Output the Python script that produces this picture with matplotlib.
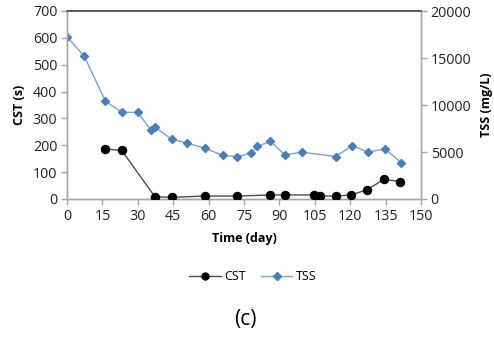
import matplotlib
matplotlib.use("Agg")
import matplotlib.pyplot as plt
from matplotlib.lines import Line2D

plt.rcParams['font.family'] = ['Open Sans', 'DejaVu Sans']

# CST measurements (s)
cst_days = [16.3, 23.2, 37.2, 44.3, 58.3, 72.2, 86.2, 92.3, 104.6, 107.1, 113.8, 120.3, 127.0, 134.3, 141.1]
cst_vals = [186, 181, 9, 6, 11, 11, 15, 15, 15, 11, 11, 15, 34, 73, 65]

# TSS measurements (mg/L)
tss_days = [0, 7.3, 16.3, 23.2, 30.0, 35.4, 37.2, 44.3, 51.0, 58.3, 66.2, 72.2, 78.1, 80.5,
            86.2, 92.3, 99.4, 113.8, 120.9, 127.6, 134.7, 141.5]
tss_vals = [17260, 15200, 10400, 9220, 9220, 7370, 7650, 6370, 5940, 5410, 4630, 4520, 4880, 5590,
            6120, 4700, 4980, 4520, 5660, 4980, 5340, 3880]

x_ticks = [0, 15, 30, 45, 60, 75, 90, 105, 120, 135, 150]
cst_ticks = [0, 100, 200, 300, 400, 500, 600, 700]
tss_ticks = [0, 5000, 10000, 15000, 20000]

W, H = 494, 343
fig = plt.figure(figsize=(W / 100, H / 100), dpi=100)
ax = fig.add_axes([67 / W, 1 - 199 / H, (421 - 67) / W, (199 - 11) / H])
ax2 = ax.twinx()

grey = '#a6a6a6'
tick_color = '#222222'

ax2.plot(tss_days, tss_vals, color='#7ea3d2', lw=1.0, marker='D', ms=4.2,
         mfc='#4a7ebb', mec='#4a7ebb', zorder=3)
ax.plot(cst_days, cst_vals, color='#4d4d4d', lw=1.0, marker='o', ms=5.8,
        mfc='black', mec='black', zorder=4)
ax.set_zorder(ax2.get_zorder() + 1)
ax.patch.set_visible(False)

ax.set_xlim(0, 150)
ax.set_ylim(0, 700)
ax2.set_ylim(0, 20000)
ax.set_xticks(x_ticks)
ax.set_yticks(cst_ticks)
ax2.set_yticks(tss_ticks)

for a in (ax, ax2):
    for side in ('left', 'right', 'bottom'):
        a.spines[side].set_color(grey)
        a.spines[side].set_linewidth(1.0)
    a.spines['top'].set_color('#5a5a5a')
    a.spines['top'].set_linewidth(1.2)
    a.tick_params(direction='out', length=4, width=1, color=grey,
                  labelsize=10.3, labelcolor=tick_color, pad=3)

ax.set_xlabel('Time (day)', fontsize=9, fontweight='bold', labelpad=6)
ax.set_ylabel('CST (s)', fontsize=9, fontweight='bold', labelpad=5)
ax2.set_ylabel('TSS (mg/L)', fontsize=9, fontweight='bold', labelpad=6)

handles = [
    Line2D([], [], color='#4d4d4d', lw=1.0, marker='o', ms=5, mfc='black', mec='black'),
    Line2D([], [], color='#7ea3d2', lw=1.0, marker='D', ms=4, mfc='#4a7ebb', mec='#4a7ebb'),
]
fig.legend(handles, ['CST', 'TSS'], loc='center', bbox_to_anchor=(253 / W, 1 - 277 / H),
           ncol=2, frameon=False, fontsize=9, handlelength=2.5, columnspacing=1.2,
           handletextpad=0.3)

fig.text(245 / W, 1 - 319 / H, '(c)', ha='center', va='center', fontsize=15)

fig.savefig('out.png', dpi=100)
